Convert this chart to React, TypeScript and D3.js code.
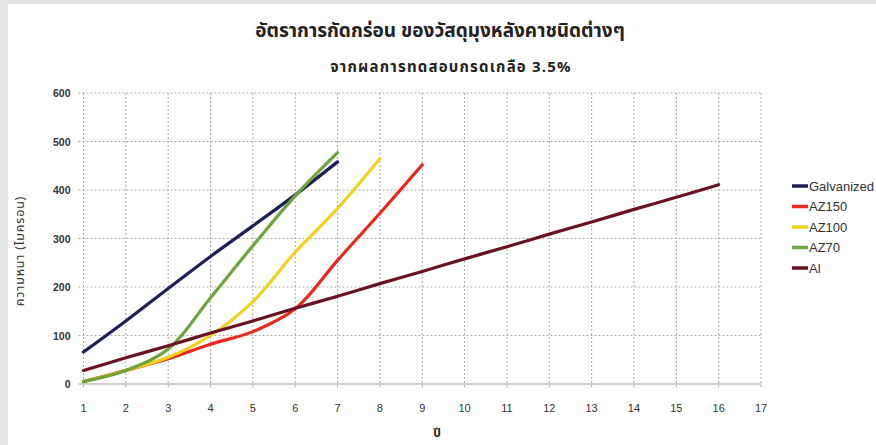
import * as d3 from 'd3';

// ข้อมูลอ่านจากกราฟ (ความหนาที่ถูกกัดกร่อน, ไมครอน)
const years = [1, 2, 3, 4, 5, 6, 7, 8, 9, 10, 11, 12, 13, 14, 15, 16];
const galvanized = [66, 130, 197, 263, 326, 390, 458];
const az150 = [5, 28, 52, 82, 108, 155, 255, 352, 452];
const az100 = [5, 28, 55, 100, 170, 272, 362, 465];
const az70 = [5, 28, 72, 178, 285, 388, 477];
const al = [28, 54, 79, 105, 130, 156, 181, 207, 232, 258, 283, 309, 334, 360, 385, 411];

const seriesNames = ['Galvanized', 'AZ150', 'AZ100', 'AZ70', 'Al'];
const seriesColors = ['#1d1f5c', '#e8281b', '#f2d21c', '#6ea43a', '#6a1221'];
const seriesValues = [galvanized, az150, az100, az70, al];

const xTicks = [1, 2, 3, 4, 5, 6, 7, 8, 9, 10, 11, 12, 13, 14, 15, 16, 17];
const yTicks = [0, 100, 200, 300, 400, 500, 600];

const W = 876;
const H = 445;
const margin = { left: 83.5, right: 115, top: 93, bottom: 61 };

export default function App() {
  const x = d3.scaleLinear().domain([1, 17]).range([margin.left, W - margin.right]);
  const y = d3.scaleLinear().domain([0, 600]).range([H - margin.bottom, margin.top]);

  const line = d3
    .line<number>()
    .x((_, i) => x(years[i]))
    .y((d) => y(d))
    .curve(d3.curveCatmullRom.alpha(0.5));

  const font = '"Liberation Sans", Arial, sans-serif';
  const thai = '"Noto Sans Thai", "Noto Sans", "DejaVu Sans", sans-serif';

  return (
    <svg
      width={W}
      height={H}
      style={{ position: 'absolute', left: 0, top: 0, display: 'block' }}
    >
      <rect x={0} y={0} width={W} height={H} fill="#e5e5e5" />
      <rect x={8} y={4} width={W - 8} height={H - 4} fill="#ffffff" />

      {/* titles */}
      <text x={440} y={37} textAnchor="middle" fontFamily={thai} fontSize={19} fontWeight="bold" fill="#222">
        อัตราการกัดกร่อน ของวัสดุมุงหลังคาชนิดต่างๆ
      </text>
      <text
        x={451}
        y={72}
        textAnchor="middle"
        fontFamily={thai}
        fontSize={15}
        fontWeight="bold"
        letterSpacing={1.2}
        fill="#222"
      >
        จากผลการทดสอบกรดเกลือ 3.5%
      </text>

      {/* grid */}
      {yTicks.map((t) => (
        <g key={'y' + t}>
          <line
            x1={x(1) - 5}
            x2={x(17)}
            y1={y(t)}
            y2={y(t)}
            stroke={t === 0 ? '#9a9a9a' : '#a8a8a8'}
            strokeWidth={1}
            strokeDasharray={t === 0 ? undefined : '2,2'}
          />
          <text
            x={x(1) - 13}
            y={y(t) + 4}
            textAnchor="end"
            fontFamily={font}
            fontSize={10.5}
            fontWeight="bold"
            fill="#333"
          >
            {t}
          </text>
        </g>
      ))}
      {xTicks.map((t) => (
        <g key={'x' + t}>
          <line
            x1={x(t)}
            x2={x(t)}
            y1={y(600)}
            y2={y(0) + 5}
            stroke="#a8a8a8"
            strokeWidth={1}
            strokeDasharray="2,2"
          />
          <text x={x(t)} y={y(0) + 28} textAnchor="middle" fontFamily={font} fontSize={11} fill="#333">
            {t}
          </text>
        </g>
      ))}

      {/* axis titles */}
      <text
        transform={`translate(24,251) rotate(-90)`}
        textAnchor="middle"
        fontFamily={thai}
        fontSize={12.5}
        letterSpacing={0.8}
        fill="#333"
      >
        ความหนา (ไมครอน)
      </text>
      <text x={437} y={437} textAnchor="middle" fontFamily={thai} fontSize={12} fontWeight="bold" fill="#222">
        ปี
      </text>

      {/* series */}
      {seriesValues.map((vals, i) => (
        <path
          key={seriesNames[i]}
          d={line(vals) || ''}
          fill="none"
          stroke={seriesColors[i]}
          strokeWidth={3.2}
          strokeLinecap="round"
          strokeLinejoin="round"
        />
      ))}

      {/* legend */}
      {seriesNames.map((name, i) => (
        <g key={'lg' + name} transform={`translate(792,${186 + i * 20.5})`}>
          <line x1={0} x2={16} y1={0} y2={0} stroke={seriesColors[i]} strokeWidth={3.5} />
          <text x={17} y={4.5} fontFamily={font} fontSize={13} fill="#333">
            {name}
          </text>
        </g>
      ))}
    </svg>
  );
}
